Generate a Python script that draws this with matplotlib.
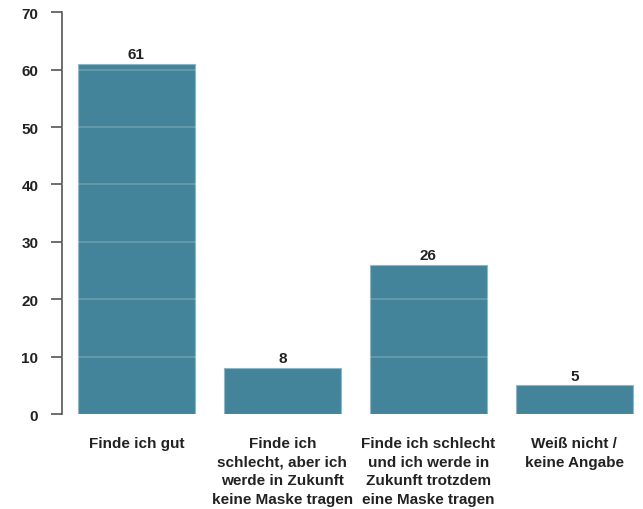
import matplotlib.pyplot as plt
import numpy as np

plt.rcParams['font.family'] = ['Liberation Sans', 'DejaVu Sans']

categories = ["Finde ich gut",
              "Finde ich\nschlecht, aber ich\nwerde in Zukunft\nkeine Maske tragen",
              "Finde ich schlecht\nund ich werde in\nZukunft trotzdem\neine Maske tragen",
              "Weiß nicht /\nkeine Angabe"]
values = [61, 8, 26, 5]
yticks = [0, 10, 20, 30, 40, 50, 60, 70]

bar_color = "#44849a"
text_color = "#222222"

fig = plt.figure(figsize=(6.43, 5.10), dpi=100)
ax = fig.add_axes([0.0964, 0.186, 0.899, 0.788])

x = np.arange(len(values))
bars = ax.bar(x, values, width=0.8, color=bar_color, edgecolor="#8ab8c8", linewidth=0.8, zorder=2)

# white grid lines drawn over the bars
for t in yticks[1:]:
    ax.axhline(t, color="white", alpha=0.2, linewidth=1.2, zorder=3)

for xi, v in zip(x, values):
    ax.text(xi, v + 0.5, str(v), ha="center", va="bottom", fontsize=11, fontweight="bold",
            color=text_color)

ax.set_xlim(-0.51, 3.45)
ax.set_ylim(0, 70)
ax.set_yticks(yticks)
ax.set_xticks(x)
ax.set_xticklabels(categories, linespacing=1.4, va="top")
ax.tick_params(axis="x", length=0, pad=16, labelsize=11, labelcolor=text_color)
ax.tick_params(axis="y", length=8, width=1.2, color="#555555", pad=9, labelsize=11,
               labelcolor=text_color)
for lbl in ax.get_xticklabels() + ax.get_yticklabels():
    lbl.set_fontweight("bold")

for side in ["top", "right", "bottom"]:
    ax.spines[side].set_visible(False)
ax.spines["left"].set_color("#555555")
ax.spines["left"].set_linewidth(1.2)

fig.savefig("out.png", dpi=100)
